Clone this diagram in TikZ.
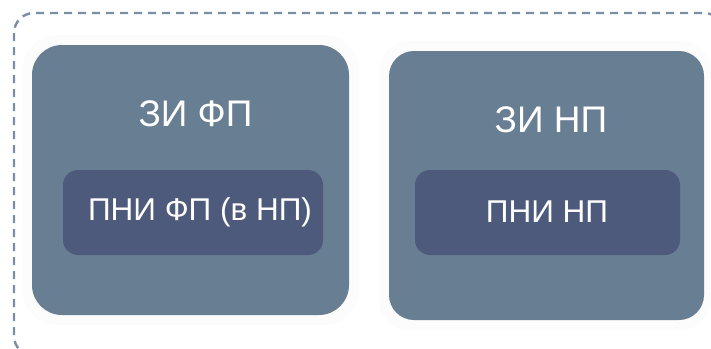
\documentclass[tikz,border=0pt]{standalone}
\usepackage{fontspec}
\setmainfont{Liberation Sans}
\definecolor{outerfill}{RGB}{104,126,147}
\definecolor{innerfill}{RGB}{78,90,123}
\definecolor{dashcol}{RGB}{122,142,167}
\definecolor{shadowcol}{RGB}{238,238,238}
\tikzset{
  zibox/.style={fill=outerfill, draw=none},
  pnibox/.style={fill=innerfill, draw=none, rounded corners=15pt},
  titletext/.style={text=white, font=\fontsize{37}{40}\selectfont, inner sep=0pt},
  innertext/.style={text=white, font=\fontsize{31.5}{35}\selectfont, inner sep=0pt},
  frame/.style={draw=dashcol, line width=2.4pt, dash pattern=on 8pt off 6pt, rounded corners=20pt},
}
\begin{document}
\begin{tikzpicture}[x=1pt,y=-1pt]
\useasboundingbox (0,0) rectangle (711,348);
\begin{scope}
\clip (0,0) rectangle (711,348);
% faint shadow regions
\fill[shadowcol, opacity=0.2, rounded corners=35pt] (22,35) rectangle (359,325);
\fill[shadowcol, opacity=0.2, rounded corners=30pt] (379,41) rectangle (711,330);
% dashed frame
\draw[frame] (14,13) rectangle (724,356);
\end{scope}
% left group
\fill[zibox, rounded corners=30pt] (32,45) rectangle (349,315);
\fill[pnibox] (63,170) rectangle (323,255);
\node[titletext] (tzifp) at (195.5,114) {ЗИ ФП};
\node[innertext] (tpnifp) at (200,212) {ПНИ ФП (в НП)};
% right group
\fill[zibox, rounded corners=25pt] (389,51) rectangle (704,320);
\fill[pnibox] (415,170) rectangle (680,255);
\node[titletext] (tzinp) at (551,120) {ЗИ НП};
\node[innertext] (tpninp) at (547,212) {ПНИ НП};
\end{tikzpicture}
\end{document}
